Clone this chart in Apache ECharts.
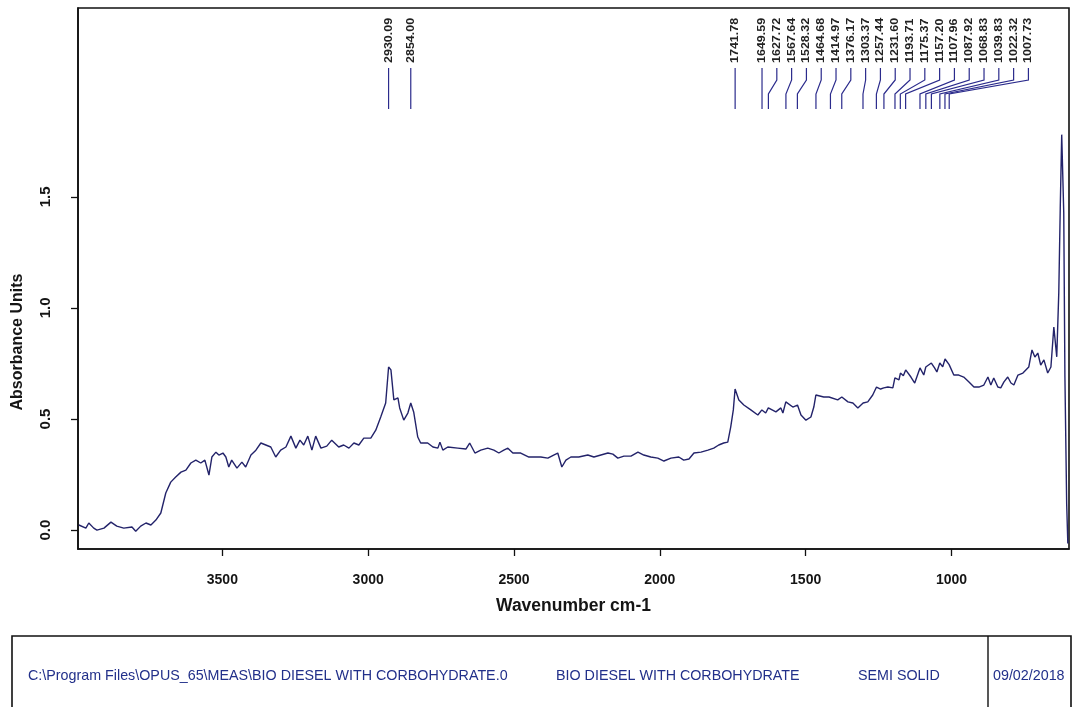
<!DOCTYPE html>
<html>
<head>
<meta charset="utf-8">
<title>BIO DIESEL WITH CORBOHYDRATE</title>
<script src="https://cdn.jsdelivr.net/npm/echarts@6/dist/echarts.min.js"></script>
<style>
  html, body { margin: 0; padding: 0; background: #ffffff; }
  #chart { width: 1074px; height: 707px; }
</style>
</head>
<body>
<div id="chart"></div>
<script>
// IR absorbance spectrum (wavenumber in cm-1, absorbance units)
const wavenumbers = [
  3992, 3968, 3958, 3941, 3930, 3906, 3882, 3862, 3838, 3810, 3797, 3780, 3762, 3745, 3728, 3711,
  3694, 3677, 3660, 3642, 3625, 3608, 3591, 3574, 3560, 3546, 3536, 3522, 3512, 3498, 3488, 3478,
  3468, 3450, 3433, 3420, 3402, 3385, 3368, 3351, 3334, 3317, 3300, 3282, 3265, 3248, 3234, 3221,
  3207, 3193, 3180, 3162, 3142, 3125, 3101, 3084, 3066, 3049, 3032, 3015, 2991, 2974, 2957, 2940,
  2930, 2922, 2912, 2898, 2892, 2878, 2864, 2854, 2844, 2830, 2820, 2796, 2778, 2761, 2754, 2744,
  2727, 2693, 2665, 2652, 2634, 2614, 2590, 2569, 2552, 2535, 2521, 2504, 2477, 2449, 2408, 2384,
  2364, 2350, 2336, 2322, 2305, 2278, 2247, 2226, 2202, 2178, 2161, 2144, 2123, 2099, 2075, 2055,
  2031, 2007, 1986, 1962, 1935, 1918, 1900, 1883, 1859, 1835, 1815, 1798, 1781, 1767, 1757, 1748,
  1742, 1729, 1712, 1688, 1664, 1650, 1637, 1628, 1602, 1585, 1578, 1568, 1544, 1528, 1516, 1499,
  1482, 1472, 1465, 1438, 1420, 1415, 1390, 1376, 1355, 1338, 1321, 1303, 1287, 1270, 1257, 1243,
  1232, 1218, 1201, 1194, 1180, 1175, 1165, 1157, 1139, 1126, 1108, 1095, 1088, 1069, 1058, 1050,
  1040, 1030, 1022, 1008, 992, 975, 958, 940, 923, 906, 889, 875, 865, 855, 841, 831,
  820, 807, 796, 786, 772, 755, 745, 735, 724, 714, 704, 694, 683, 670, 659, 649,
  639, 632, 627, 622, 615, 611, 605, 601
];
const absorbance = [
  0.023, 0.009, 0.032, 0.009, 0.000, 0.009, 0.036, 0.018, 0.009, 0.014, -0.005, 0.018, 0.032, 0.023, 0.045, 0.077,
  0.167, 0.216, 0.239, 0.261, 0.270, 0.302, 0.315, 0.302, 0.315, 0.248, 0.329, 0.351, 0.338, 0.347, 0.329, 0.284,
  0.315, 0.279, 0.306, 0.284, 0.338, 0.360, 0.392, 0.383, 0.374, 0.329, 0.360, 0.374, 0.423, 0.369, 0.405, 0.383,
  0.423, 0.360, 0.423, 0.369, 0.378, 0.405, 0.374, 0.383, 0.369, 0.392, 0.383, 0.414, 0.414, 0.450, 0.509, 0.572,
  0.734, 0.721, 0.586, 0.595, 0.550, 0.495, 0.527, 0.572, 0.532, 0.419, 0.392, 0.392, 0.374, 0.369, 0.396, 0.360,
  0.374, 0.369, 0.365, 0.392, 0.347, 0.360, 0.369, 0.360, 0.347, 0.360, 0.369, 0.347, 0.347, 0.329, 0.329, 0.324,
  0.338, 0.347, 0.284, 0.315, 0.329, 0.329, 0.338, 0.329, 0.338, 0.347, 0.342, 0.324, 0.333, 0.333, 0.351, 0.338,
  0.329, 0.324, 0.311, 0.324, 0.329, 0.315, 0.320, 0.347, 0.351, 0.360, 0.369, 0.383, 0.392, 0.396, 0.464, 0.541,
  0.635, 0.586, 0.563, 0.541, 0.518, 0.541, 0.527, 0.550, 0.532, 0.550, 0.527, 0.577, 0.554, 0.563, 0.518, 0.495,
  0.509, 0.554, 0.608, 0.599, 0.599, 0.608, 0.586, 0.599, 0.577, 0.572, 0.550, 0.572, 0.577, 0.608, 0.644, 0.635,
  0.640, 0.644, 0.640, 0.685, 0.676, 0.707, 0.695, 0.721, 0.689, 0.662, 0.730, 0.698, 0.734, 0.752, 0.730, 0.712,
  0.752, 0.735, 0.770, 0.745, 0.698, 0.698, 0.689, 0.667, 0.644, 0.644, 0.653, 0.689, 0.653, 0.685, 0.644, 0.640,
  0.667, 0.689, 0.662, 0.653, 0.698, 0.707, 0.721, 0.734, 0.811, 0.779, 0.797, 0.743, 0.766, 0.707, 0.734, 0.914,
  0.780, 1.070, 1.450, 1.780, 1.430, 0.690, 0.120, -0.060
];

// Picked peak positions, highest wavenumber first
const peakWavenumbers = [
  2930.09, 2854.00, 1741.78, 1649.59, 1627.72, 1567.64, 1528.32, 1464.68, 1414.97, 1376.17, 1303.37,
  1257.44, 1231.60, 1193.71, 1175.37, 1157.20, 1107.96, 1087.92, 1068.83, 1039.83, 1022.32, 1007.73
];

const xTicks = [3500, 3000, 2500, 2000, 1500, 1000];
const yTicks = [0, 0.5, 1.0, 1.5];

const footerFields = [
  'C:\\Program Files\\OPUS_65\\MEAS\\BIO DIESEL WITH CORBOHYDRATE.0',
  'BIO DIESEL WITH CORBOHYDRATE',
  'SEMI SOLID',
  '09/02/2018'
];

const SANS = '"Liberation Sans", Arial, sans-serif';
const LINE_COLOR = '#23236a';
const PEAK_COLOR = '#2b2b8c';
const FOOT_COLOR = '#22308a';
const TEXT_COLOR = '#151515';

const spectrum = wavenumbers.map((w, i) => [w, absorbance[i]]);
const peakData = peakWavenumbers.map((w, i) => [w, 0, i]);

// Peak markers: labels are pushed apart so they never overlap,
// and a bent leader line connects each label to its true position.
function renderPeak(params, api) {
  const idx = params.dataIndex;
  const top = params.coordSys.y;
  const gap = 14.8;
  let prev = -Infinity;
  let labelX = 0, peakX = 0;
  for (let k = 0; k < peakWavenumbers.length; k++) {
    const px = api.coord([peakWavenumbers[k], 0])[0];
    const lx = Math.max(px, prev + gap);
    prev = lx;
    if (k === idx) { labelX = lx; peakX = px; }
  }
  return {
    type: 'group',
    children: [
      {
        type: 'polyline',
        shape: { points: [[labelX, top + 60], [labelX, top + 72], [peakX, top + 86], [peakX, top + 101]] },
        style: { stroke: PEAK_COLOR, lineWidth: 1.2, fill: null }
      },
      {
        type: 'text',
        x: labelX,
        y: top + 55,
        rotation: Math.PI / 2,
        scaleY: 0.85,
        style: {
          text: peakWavenumbers[idx].toFixed(2),
          fontFamily: SANS,
          fontWeight: 'bold',
          fontSize: 12.5,
          fill: '#222222',
          align: 'left',
          verticalAlign: 'middle'
        }
      }
    ]
  };
}

const chart = echarts.init(document.getElementById('chart'), null, { renderer: 'canvas' });

chart.setOption({
  animation: false,
  backgroundColor: '#ffffff',
  grid: {
    left: 78, top: 8, width: 991, height: 541,
    show: true, borderColor: '#111111', borderWidth: 1.6, backgroundColor: 'transparent'
  },
  xAxis: {
    type: 'value',
    inverse: true,
    min: 597,
    max: 3995,
    axisLine: { show: true, onZero: false, lineStyle: { color: '#111111', width: 1.6 } },
    axisTick: { show: true, customValues: xTicks, length: 7, lineStyle: { color: '#111111', width: 1.3 } },
    axisLabel: {
      customValues: xTicks,
      margin: 24,
      formatter: v => String(v),
      fontFamily: SANS, fontWeight: 'bold', fontSize: 14, color: TEXT_COLOR
    },
    splitLine: { show: false },
    name: 'Wavenumber cm-1',
    nameLocation: 'middle',
    nameGap: 48,
    nameTextStyle: { fontFamily: SANS, fontWeight: 'bold', fontSize: 17.5, color: TEXT_COLOR }
  },
  yAxis: {
    type: 'value',
    min: -0.085,
    max: 2.35,
    axisLine: { show: true, onZero: false, lineStyle: { color: '#111111', width: 1.6 } },
    axisTick: { show: true, customValues: yTicks, length: 7, lineStyle: { color: '#111111', width: 1.3 } },
    axisLabel: {
      customValues: yTicks,
      rotate: 90,
      margin: 25,
      formatter: v => v.toFixed(1),
      fontFamily: SANS, fontWeight: 'bold', fontSize: 15, color: TEXT_COLOR
    },
    splitLine: { show: false }
  },
  series: [
    {
      type: 'line',
      data: spectrum,
      showSymbol: false,
      symbol: 'none',
      lineStyle: { color: LINE_COLOR, width: 1.4 },
      silent: true
    },
    {
      type: 'custom',
      data: peakData,
      renderItem: renderPeak,
      clip: false,
      silent: true,
      z: 3
    }
  ],
  graphic: [
    {
      type: 'text',
      x: 18, y: 342,
      rotation: Math.PI / 2,
      style: {
        text: 'Absorbance Units',
        fontFamily: SANS, fontWeight: 'bold', fontSize: 16, fill: TEXT_COLOR,
        align: 'center', verticalAlign: 'middle'
      }
    },
    {
      type: 'rect',
      shape: { x: 12, y: 636, width: 1059, height: 90 },
      style: { fill: null, stroke: '#111111', lineWidth: 1.6 }
    },
    {
      type: 'line',
      shape: { x1: 988, y1: 636, x2: 988, y2: 707 },
      style: { stroke: '#111111', lineWidth: 1.4 }
    },
    {
      type: 'text', x: 28, y: 676,
      style: { text: footerFields[0], fontFamily: SANS, fontSize: 14.3, fill: FOOT_COLOR, verticalAlign: 'middle' }
    },
    {
      type: 'text', x: 556, y: 676,
      style: { text: footerFields[1], fontFamily: SANS, fontSize: 14.3, fill: FOOT_COLOR, verticalAlign: 'middle' }
    },
    {
      type: 'text', x: 858, y: 676,
      style: { text: footerFields[2], fontFamily: SANS, fontSize: 14.3, fill: FOOT_COLOR, verticalAlign: 'middle' }
    },
    {
      type: 'text', x: 993, y: 676,
      style: { text: footerFields[3], fontFamily: SANS, fontSize: 14.3, fill: FOOT_COLOR, verticalAlign: 'middle' }
    }
  ]
});
</script>
</body>
</html>
